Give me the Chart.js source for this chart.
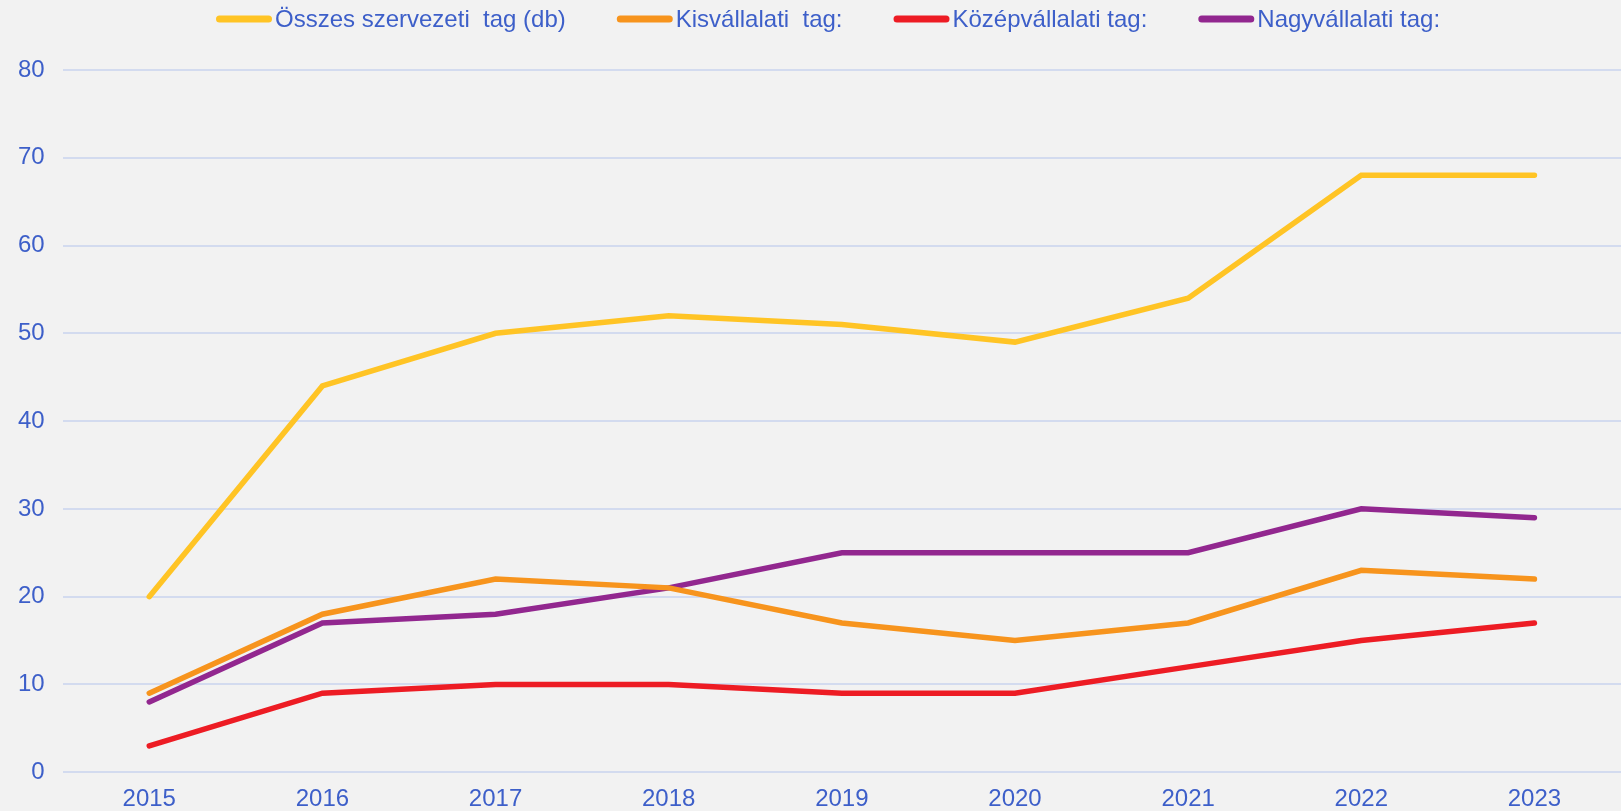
<!DOCTYPE html>
<html>
<head>
<meta charset="utf-8">
<script src="https://cdn.jsdelivr.net/npm/chart.js@4"></script>
<style>
  html, body { margin: 0; padding: 0; background: #f2f2f2; }
  #wrap { width: 1621px; height: 811px; position: relative; }
</style>
</head>
<body>
<div id="wrap"><canvas id="grafica"></canvas></div>
<script>
// Adatok
const evek = ['2015', '2016', '2017', '2018', '2019', '2020', '2021', '2022', '2023'];
const osszes = [20, 44, 50, 52, 51, 49, 54, 68, 68];
const kis = [9, 18, 22, 21, 17, 15, 17, 23, 22];
const kozep = [3, 9, 10, 10, 9, 9, 12, 15, 17];
const nagy = [8, 17, 18, 21, 25, 25, 25, 30, 29];

const szoveg = '#3d5fc9';
const betu = 'Liberation Sans, Arial, sans-serif';

function sorozat(nev, adat, szin) {
    return {
        label: nev,
        data: adat,
        borderColor: szin,
        backgroundColor: szin,
        borderWidth: 5.5,
        borderCapStyle: 'round',
        borderJoinStyle: 'miter',
        pointRadius: 0,
        pointHoverRadius: 0,
        tension: 0
    };
}

// Jelmagyarázat kézzel rajzolva (vonal + szöveg, kis réssel)
const jelmagyarazat = {
    id: 'jelmagyarazat',
    afterDraw(chart) {
        const ctx = chart.ctx;
        const vonal = 56, res = 3, kozt = 51, y = 19;
        ctx.save();
        ctx.font = '24px ' + betu;
        ctx.textBaseline = 'middle';
        let x = 216;
        chart.data.datasets.forEach(d => {
            ctx.strokeStyle = d.borderColor;
            ctx.lineWidth = 7;
            ctx.lineCap = 'round';
            ctx.beginPath();
            ctx.moveTo(x + 3.5, y);
            ctx.lineTo(x + vonal - 3.5, y);
            ctx.stroke();
            ctx.fillStyle = szoveg;
            ctx.fillText(d.label, x + vonal + res, y + 1);
            x += vonal + res + ctx.measureText(d.label).width + kozt;
        });
        ctx.restore();
    }
};

new Chart(document.getElementById('grafica').getContext('2d'), {
    type: 'line',
    data: {
        labels: evek,
        datasets: [
            sorozat('Összes szervezeti  tag (db)', osszes, '#ffc425'),
            sorozat('Kisvállalati  tag:', kis, '#f7941d'),
            sorozat('Középvállalati tag:', kozep, '#ed1c24'),
            sorozat('Nagyvállalati tag:', nagy, '#92278f')
        ]
    },
    options: {
        responsive: true,
        maintainAspectRatio: false,
        animation: false,
        layout: { padding: { left: 0, right: 0, top: 70, bottom: -16 } },
        plugins: {
            legend: { display: false },
            tooltip: { enabled: false }
        },
        scales: {
            x: {
                offset: true,
                grid: { display: false, drawTicks: false },
                border: { display: false },
                ticks: { color: szoveg, font: { family: betu, size: 24 }, padding: 13 }
            },
            y: {
                min: 0,
                max: 80,
                ticks: { stepSize: 10, color: szoveg, font: { family: betu, size: 24 }, padding: 18 },
                grid: { color: '#d3dbef', lineWidth: 2, drawTicks: false },
                border: { display: false }
            }
        }
    },
    plugins: [jelmagyarazat]
});
</script>
</body>
</html>
